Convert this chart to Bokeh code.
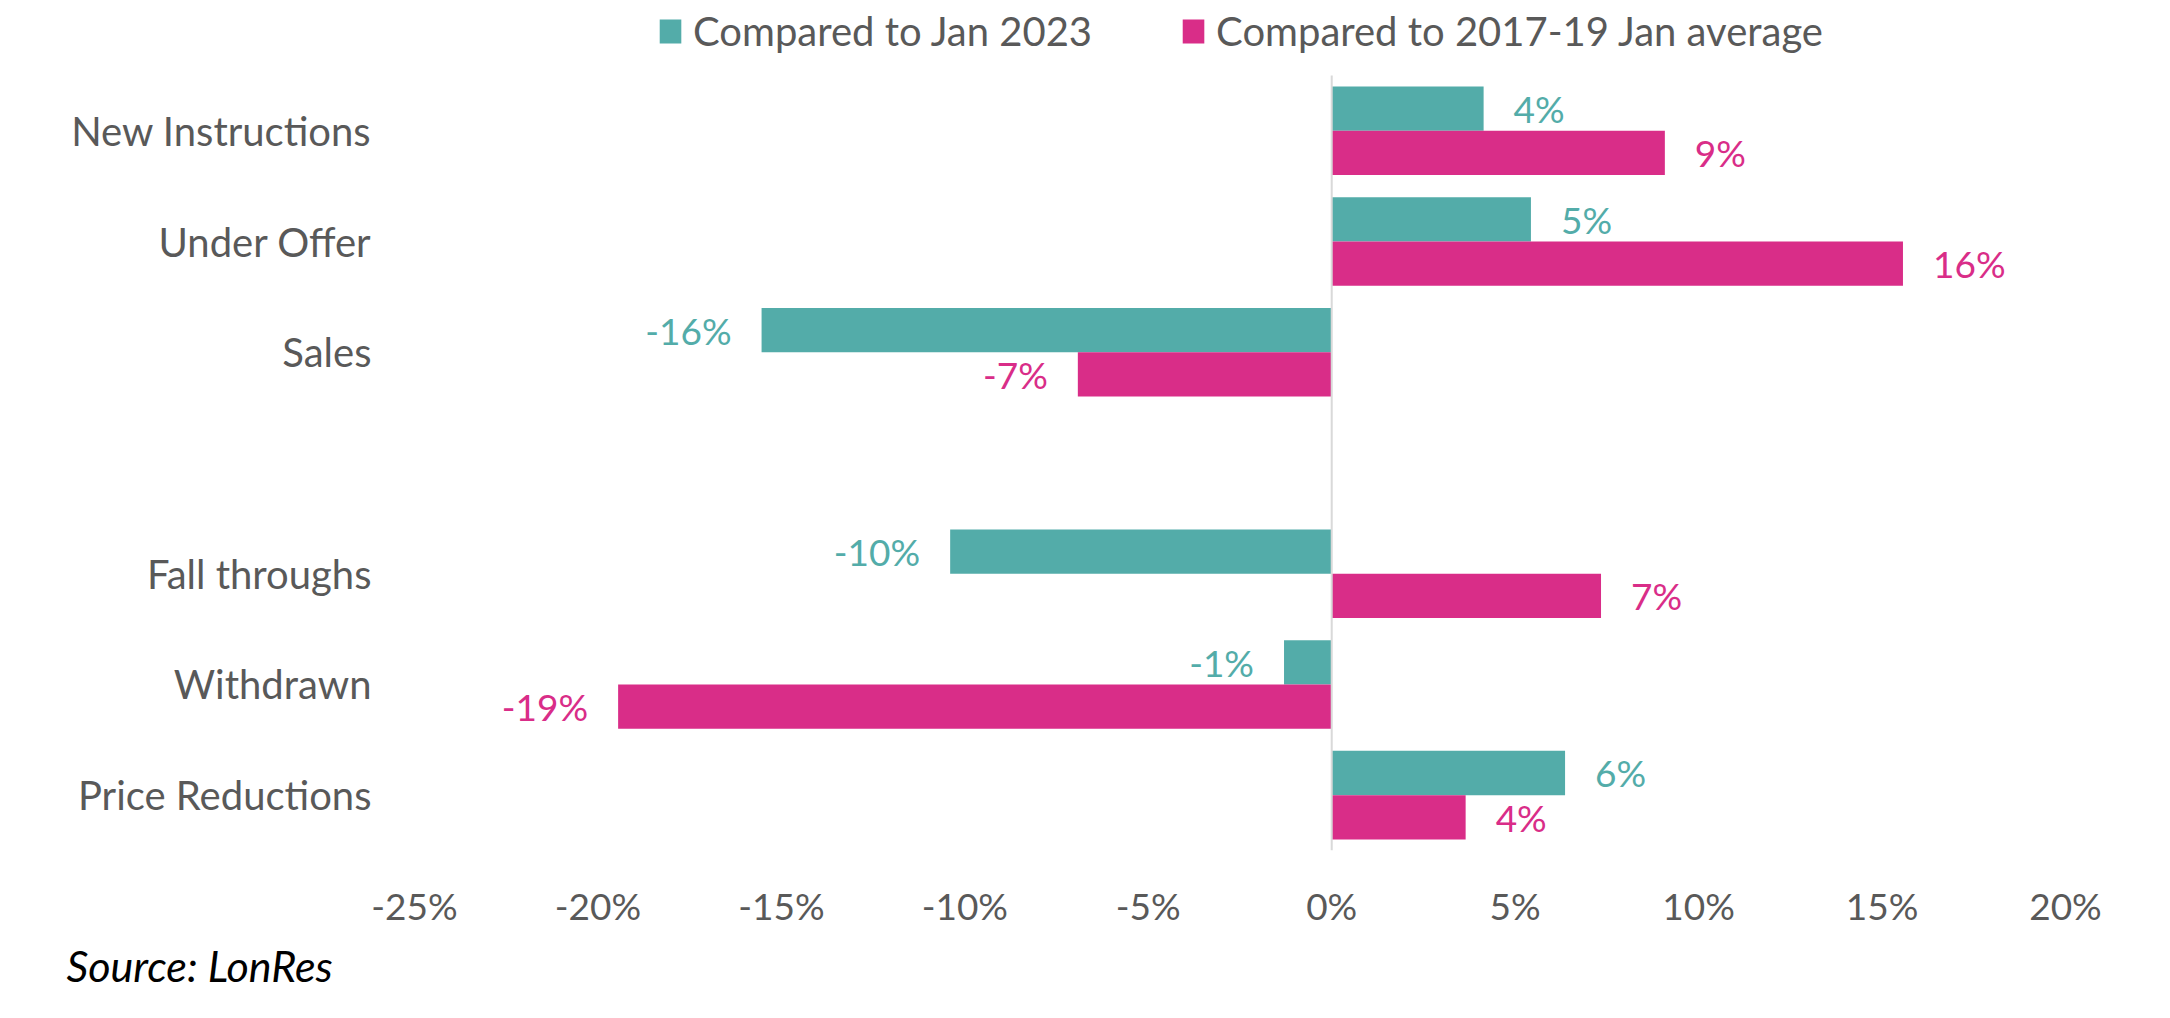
from bokeh.plotting import figure
from bokeh.models import (Legend, LegendItem, NumeralTickFormatter, FixedTicker, Title,
                          ColumnDataSource, Range1d)
from bokeh.core.properties import value
from bokeh.embed import file_html
from bokeh.resources import INLINE

# ---- data ----
categories = ["New Instructions", "Under Offer", "Sales", " ", "Fall throughs", "Withdrawn", "Price Reductions"]
vs_jan_2023 = [0.0414, 0.0543, -0.1554, None, -0.104, -0.013, 0.0636]
vs_2017_19_avg = [0.0908, 0.1557, -0.0692, None, 0.0734, -0.1945, 0.0365]
series_names = ["Compared to Jan 2023", "Compared to 2017-19 Jan average"]
x_ticks = [-0.25, -0.20, -0.15, -0.10, -0.05, 0.0, 0.05, 0.10, 0.15, 0.20]
source_note = "Source: LonRes"

TEAL = "#53ACA9"
MAGENTA = "#D92D88"
GREY = "#595959"
FONT = "Lato"
FS_CAT = "40px"
FS_NUM = "37px"

n = len(categories)
pos = {c: n - 1 - i for i, c in enumerate(categories)}   # top category highest
LEGEND_ROOM = 0.677                                    # extra room above bars for legend

p = figure(width=2150, height=1000, output_backend="svg", toolbar_location=None, title=None,
           y_range=Range1d(-0.5, n - 0.5 + LEGEND_ROOM),
           x_range=Range1d(x_ticks[0], x_ticks[-1]),
           min_border_left=414, min_border_right=85, min_border_top=0, min_border_bottom=150)
p.outline_line_color = None
p.grid.visible = False


def make_source(vals, off):
    ys, v, labels, aligns, offs = [], [], [], [], []
    for c, x in zip(categories, vals):
        if x is None:
            continue
        ys.append(pos[c] + off)
        v.append(x)
        labels.append(f"{round(x * 100):d}%")
        aligns.append("left" if x >= 0 else "right")
        offs.append(30 if x >= 0 else -30)
    return ColumnDataSource(dict(y=ys, val=v, label=labels, align=aligns, xoff=offs))


src1 = make_source(vs_jan_2023, 0.2)
src2 = make_source(vs_2017_19_avg, -0.2)

r1 = p.hbar(y="y", right="val", left=0, height=0.4, source=src1, fill_color=TEAL, line_color=None)
r2 = p.hbar(y="y", right="val", left=0, height=0.4, source=src2, fill_color=MAGENTA, line_color=None)

for src, col in ((src1, TEAL), (src2, MAGENTA)):
    p.text(x="val", y="y", text="label", source=src,
           text_align="align", x_offset="xoff", text_baseline="middle",
           text_font=value(FONT), text_font_size=FS_NUM, text_color=col)

# zero line spanning the category area only
p.segment(x0=[0], y0=[-0.5], x1=[0], y1=[n - 0.5], line_color="#D9D9D9", line_width=2)

# axes
p.xaxis.ticker = FixedTicker(ticks=x_ticks)
p.xaxis.formatter = NumeralTickFormatter(format="0%")
p.yaxis.ticker = FixedTicker(ticks=list(range(n)))
p.yaxis.major_label_overrides = {pos[c]: c for c in categories}
for ax in (p.xaxis, p.yaxis):
    ax.axis_line_color = None
    ax.major_tick_line_color = None
    ax.minor_tick_line_color = None
    ax.major_tick_out = 0
    ax.major_tick_in = 0
    ax.major_label_text_font = FONT
    ax.major_label_text_color = GREY
p.xaxis.major_label_text_font_size = FS_NUM
p.yaxis.major_label_text_font_size = FS_CAT
p.xaxis.major_label_standoff = 32
p.yaxis.major_label_standoff = 43

legend = Legend(items=[LegendItem(label=series_names[0], renderers=[r1]),
                       LegendItem(label=series_names[1], renderers=[r2])],
                orientation="horizontal", location="top_center",
                glyph_width=27, glyph_height=30, label_standoff=10, spacing=87,
                label_text_font=FONT, label_text_font_size=FS_CAT, label_text_color=GREY,
                border_line_color=None, background_fill_alpha=0, padding=0, margin=7)
p.add_layout(legend)

p.add_layout(Title(text=source_note, align="left", offset=-348, text_font=FONT,
                   text_font_size="43px", text_font_style="italic", text_color="black",
                   standoff=14), "below")

open("out.html", "w").write(file_html(p, INLINE))
